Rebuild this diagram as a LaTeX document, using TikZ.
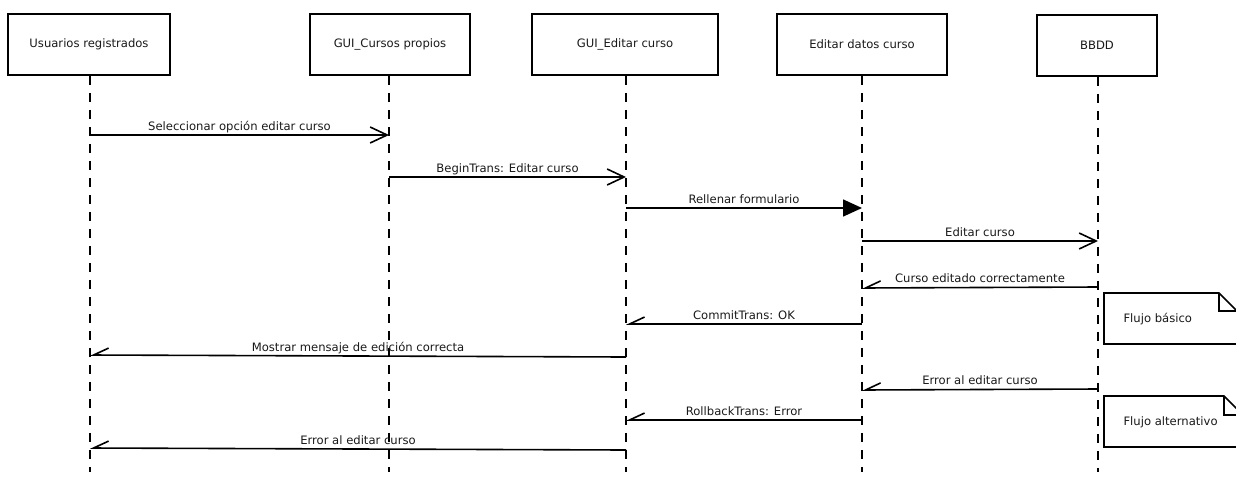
\documentclass[tikz,border=0pt]{standalone}
\usepackage{fontspec}
\setmainfont{DejaVu Sans}
\usetikzlibrary{arrows.meta}
\begin{document}
\begin{tikzpicture}[x=1pt,y=-1pt,
  every node/.style={font=\fontsize{11.6}{13}\selectfont, text=black!90},
  actor/.style={draw, line width=1.8pt, rectangle, inner sep=0pt},
  lifeline/.style={line width=1.6pt, dash pattern=on 9pt off 8pt},
  call/.style={line width=1.6pt, -{Straight Barb[length=17pt,width=16pt,line width=1.6pt]}},
  sync/.style={line width=1.6pt, -{Triangle[length=19pt,width=17pt]}},
  reply/.style={line width=1.6pt, -{Straight Barb[harpoon,swap,length=15pt,width=14pt,line width=1.6pt]}},
  msg/.style={anchor=base, yshift=5pt},
  note/.style={line width=1.6pt, fill=white}]
\useasboundingbox (0,0) rectangle (1236,477);

% participants
\node[actor, minimum width=162pt, minimum height=61pt] (usr) at (89,44.5) {Usuarios registrados};
\node[actor, minimum width=160pt, minimum height=61pt] (gcp) at (390,44.5) {GUI\_Cursos propios};
\node[actor, minimum width=186pt, minimum height=61pt] (gec) at (625,44.5) {GUI\_Editar curso};
\node[actor, minimum width=170pt, minimum height=61pt] (edc) at (862,44.5) {Editar datos curso};
\node[actor, minimum width=120pt, minimum height=61pt] (bd) at (1097,45.5) {BBDD};

% lifeline ends
\coordinate (usrE) at (90,472);
\coordinate (gcpE) at (389,472);
\coordinate (gecE) at (626,472);
\coordinate (edcE) at (862,472);
\coordinate (bdE) at (1098,472);
\draw[lifeline] (usr.south -| usrE) -- (usrE);
\draw[lifeline] (gcp.south -| gcpE) -- (gcpE);
\draw[lifeline] (gec.south -| gecE) -- (gecE);
\draw[lifeline] (edc.south -| edcE) -- (edcE);
\draw[lifeline] (bd.south -| bdE) -- (bdE);

% message anchor points on the lifelines
\coordinate (m1a) at (90,135);   \coordinate (m1b) at (389,135);
\coordinate (m2a) at (389,177);  \coordinate (m2b) at (626,177);
\coordinate (m3a) at (626,208);  \coordinate (m3b) at (862,208);
\coordinate (m4a) at (862,241);  \coordinate (m4b) at (1098,241);
\coordinate (m5a) at (1098,287); \coordinate (m5b) at (862,288);
\coordinate (m6a) at (862,324);  \coordinate (m6b) at (626,324);
\coordinate (m7a) at (626,357);  \coordinate (m7b) at (90,355);
\coordinate (m8a) at (1098,389); \coordinate (m8b) at (862,390);
\coordinate (m9a) at (862,420);  \coordinate (m9b) at (626,420);
\coordinate (m10a) at (626,450); \coordinate (m10b) at (90,448);

% basic flow
\draw[call] (m1a) -- node[msg] {Seleccionar opción editar curso} (m1b);
\draw[call] (m2a) -- node[msg] {BeginTrans: Editar curso} (m2b);
\draw[sync] (m3a) -- node[msg] {Rellenar formulario} (m3b);
\draw[call] (m4a) -- node[msg] {Editar curso} (m4b);
\draw[reply] (m5a) -- node[msg] {Curso editado correctamente} (m5b);
\draw[reply] (m6a) -- node[msg] {CommitTrans: OK} (m6b);
\draw[reply] (m7a) -- node[msg] {Mostrar mensaje de edición correcta} (m7b);

% alternative flow
\draw[reply] (m8a) -- node[msg] {Error al editar curso} (m8b);
\draw[reply] (m9a) -- node[msg] {RollbackTrans: Error} (m9b);
\draw[reply] (m10a) -- node[msg] {Error al editar curso} (m10b);

% notes
\draw[note] (1104,293) -- (1219,293) -- (1237,311) -- (1237,344) -- (1104,344) -- cycle;
\draw[line width=1.6pt] (1219,293) -- (1219,311) -- (1237,311);
\node[anchor=west] (n1) at (1120,319) {Flujo básico};

\draw[note] (1104,396) -- (1224,396) -- (1243,415) -- (1243,447) -- (1104,447) -- cycle;
\draw[line width=1.6pt] (1224,396) -- (1224,415) -- (1243,415);
\node[anchor=west] (n2) at (1120,422) {Flujo alternativo};
\end{tikzpicture}
\end{document}
